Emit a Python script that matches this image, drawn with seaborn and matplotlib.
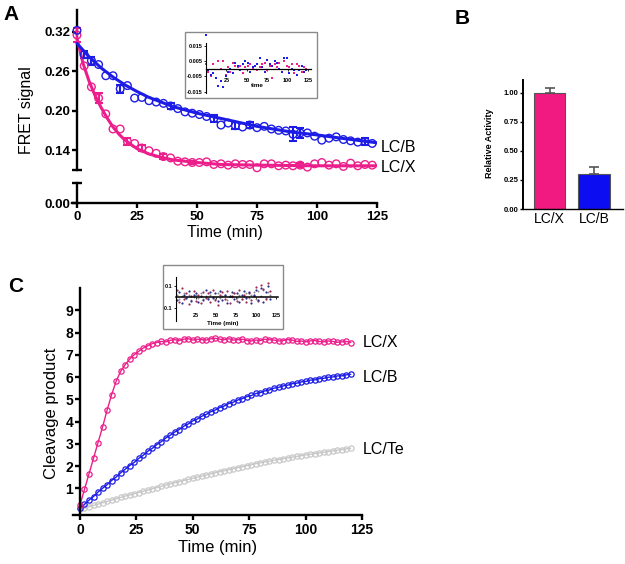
import numpy as np
import pandas as pd
import matplotlib
matplotlib.use("Agg")
import matplotlib.pyplot as plt
import seaborn as sns
from matplotlib.patches import Rectangle

# ---------------- data ----------------
# Panel A: FRET signal vs time (points every 3 min)
a_time = list(range(0, 124, 3))
a_lcx = [0.315, 0.268, 0.236, 0.219, 0.195, 0.172, 0.172, 0.153, 0.150, 0.143,
         0.139, 0.135, 0.130, 0.128, 0.123, 0.122, 0.121, 0.121, 0.122, 0.118,
         0.119, 0.117, 0.119, 0.118, 0.118, 0.113, 0.119, 0.119, 0.116, 0.117,
         0.116, 0.117, 0.114, 0.119, 0.121, 0.117, 0.119, 0.115, 0.120, 0.116,
         0.118, 0.117]
a_lcb = [0.322, 0.285, 0.276, 0.270, 0.253, 0.253, 0.233, 0.238, 0.219, 0.220,
         0.215, 0.213, 0.211, 0.207, 0.203, 0.198, 0.196, 0.194, 0.191, 0.188,
         0.178, 0.181, 0.177, 0.175, 0.178, 0.174, 0.176, 0.172, 0.170, 0.169,
         0.164, 0.166, 0.166, 0.161, 0.155, 0.158, 0.160, 0.156, 0.154, 0.152,
         0.153, 0.150]
a_lcx_err = [0.011, 0, 0, 0.008, 0, 0, 0, 0.005, 0, 0.004,
             0, 0, 0.004, 0, 0, 0, 0.003, 0, 0, 0,
             0, 0, 0, 0, 0, 0, 0, 0, 0, 0,
             0, 0.003, 0, 0, 0, 0, 0, 0, 0, 0,
             0, 0]
a_lcb_err = [0, 0.005, 0.006, 0, 0, 0, 0.006, 0, 0, 0,
             0, 0, 0, 0.005, 0, 0, 0, 0, 0, 0.005,
             0, 0, 0.005, 0, 0.004, 0, 0, 0, 0, 0,
             0.011, 0.008, 0, 0, 0, 0, 0, 0, 0, 0,
             0.005, 0]
# fitted curves
a_fit_t_lcx = [0, 2.5, 5, 7.5, 10, 12.5, 15, 17.5, 20, 25, 30, 35, 40, 50, 60, 75, 100, 125]
a_fit_lcx = [0.310, 0.272, 0.245, 0.223, 0.205, 0.189, 0.175, 0.164, 0.155, 0.142,
             0.134, 0.129, 0.125, 0.121, 0.118, 0.117, 0.116, 0.116]
a_fit_t_lcb = [0, 5, 10, 15, 20, 25, 30, 40, 50, 60, 75, 90, 100, 110, 125]
a_fit_lcb = [0.302, 0.282, 0.265, 0.251, 0.239, 0.229, 0.220, 0.206, 0.196, 0.188,
             0.176, 0.167, 0.163, 0.158, 0.151]
# Panel A inset residuals
a_res_lcb = [0.022, -0.001, -0.004, -0.003, -0.006, -0.011, -0.008, -0.012, -0.005, -0.002,
             0.000, -0.003, 0.004, 0.002, -0.001, 0.003, 0.005, 0.004, -0.002, 0.001,
             0.002, 0.003, 0.007, 0.001, -0.002, 0.006, 0.003, 0.002, 0.005, 0.004,
             0.000, -0.002, 0.007, 0.007, -0.003, 0.000, -0.001, -0.004, -0.001, 0.002,
             -0.002, -0.001]
a_res_lcx = [0.003, -0.002, -0.005, 0.003, -0.006, 0.005, 0.000, 0.005, -0.004, 0.001,
             -0.002, 0.004, 0.002, 0.001, 0.002, -0.003, 0.001, 0.002, 0.003, 0.000,
             0.002, -0.001, 0.001, 0.003, 0.004, -0.001, 0.002, -0.006, 0.003, 0.001,
             0.004, -0.002, 0.005, 0.002, 0.001, 0.003, -0.003, 0.003, 0.002, -0.002,
             0.001, 0.000]

# Panel B: relative activity
b_labels = ["LC/X", "LC/B"]
b_values = [1.00, 0.30]
b_errors = [0.04, 0.06]

# Panel C: cleavage product vs time (every 2 min)
c_time = list(range(0, 121, 2))
c_lcx = [0.25, 0.95, 1.65, 2.35, 3.05, 3.75, 4.50, 5.20, 5.80, 6.25,
         6.55, 6.80, 7.00, 7.15, 7.30, 7.40, 7.50, 7.55, 7.60, 7.58,
         7.65, 7.68, 7.64, 7.70, 7.72, 7.66, 7.70, 7.68, 7.66, 7.72,
         7.74, 7.70, 7.68, 7.72, 7.66, 7.68, 7.70, 7.64, 7.62, 7.66,
         7.64, 7.70, 7.68, 7.66, 7.62, 7.64, 7.68, 7.66, 7.60, 7.62,
         7.58, 7.62, 7.64, 7.60, 7.58, 7.62, 7.60, 7.56, 7.58, 7.60,
         7.55]
c_lcb = [0.10, 0.28, 0.47, 0.63, 0.83, 1.00, 1.16, 1.35, 1.50, 1.69,
         1.85, 2.02, 2.16, 2.34, 2.48, 2.66, 2.79, 2.96, 3.09, 3.26,
         3.38, 3.53, 3.64, 3.79, 3.89, 4.03, 4.11, 4.24, 4.32, 4.44,
         4.52, 4.63, 4.70, 4.81, 4.87, 4.97, 5.03, 5.12, 5.17, 5.26,
         5.30, 5.38, 5.42, 5.50, 5.53, 5.60, 5.63, 5.70, 5.72, 5.78,
         5.80, 5.86, 5.87, 5.93, 5.94, 5.99, 6.00, 6.05, 6.05, 6.10,
         6.12]
c_lcte = [0.05, 0.11, 0.17, 0.23, 0.29, 0.35, 0.41, 0.47, 0.53, 0.59,
          0.65, 0.70, 0.76, 0.81, 0.87, 0.92, 0.98, 1.03, 1.09, 1.14,
          1.20, 1.25, 1.30, 1.35, 1.40, 1.45, 1.50, 1.55, 1.60, 1.65,
          1.70, 1.75, 1.79, 1.84, 1.88, 1.93, 1.97, 2.02, 2.06, 2.11,
          2.15, 2.19, 2.22, 2.26, 2.29, 2.33, 2.36, 2.40, 2.43, 2.47,
          2.50, 2.53, 2.56, 2.59, 2.62, 2.65, 2.68, 2.71, 2.74, 2.77,
          2.80]
# Panel C inset residuals (every 3 min)
c_res_time = list(range(1, 120, 3))
c_res_1 = [0.06, -0.05, 0.08, -0.02, 0.03, -0.07, 0.01, 0.05, -0.04, 0.02,
           -0.06, 0.04, -0.01, 0.03, -0.05, 0.06, -0.03, -0.08, 0.02, 0.04,
           -0.02, 0.05, -0.06, 0.01, 0.03, -0.04, 0.06, -0.02, 0.02, -0.05,
           0.03, -0.03, 0.01, 0.09, -0.04, 0.11, 0.07, -0.02, 0.13, 0.05]
c_res_2 = [-0.03, 0.04, -0.06, 0.02, -0.01, 0.05, -0.04, 0.02, 0.03, -0.05,
           0.01, -0.03, 0.06, -0.02, 0.04, -0.01, 0.03, -0.04, 0.05, -0.03,
           0.02, -0.06, 0.01, 0.04, -0.02, 0.03, -0.05, 0.02, 0.05, -0.01,
           0.04, -0.06, 0.02, 0.06, -0.03, 0.08, -0.05, 0.04, 0.10, -0.02]
c_res_3 = [0.02, -0.02, 0.01, 0.03, -0.01, 0.02, -0.03, 0.00, 0.02, -0.01,
           0.03, -0.02, 0.01, -0.01, 0.02, 0.00, -0.02, 0.03, -0.01, 0.01,
           0.02, -0.03, 0.01, 0.00, 0.03, -0.01, 0.02, -0.02, 0.01, 0.03,
           -0.01, 0.02, 0.04, -0.02, 0.05, 0.01, 0.06, -0.01, 0.04, 0.02]

# ---------------- style ----------------
sns.set_theme(style="ticks")
plt.rcParams["font.family"] = ["Liberation Sans", "DejaVu Sans"]
plt.rcParams["axes.linewidth"] = 1.7
for k in ["text.color", "axes.labelcolor", "xtick.color", "ytick.color", "axes.edgecolor",
          "xtick.labelcolor", "ytick.labelcolor"]:
    plt.rcParams[k] = "black"

PINK = "#EC1E8C"
BLUE = "#1C1CE6"
PINK_BAR = "#F01A80"
BLUE_BAR = "#0D0DF2"
GREY = "#C8C8C8"

W, H = 625, 564
fig = plt.figure(figsize=(W / 100, H / 100), dpi=100)


def ax_px(l, t, r, b):
    return fig.add_axes([l / W, 1 - b / H, (r - l) / W, (b - t) / H])


def clean(ax):
    ax.set_facecolor("none")
    for s in ["top", "right"]:
        ax.spines[s].set_visible(False)


# ================= Panel A =================
axA = ax_px(72.2, 10, 377, 170)
axA0 = ax_px(72.2, 183, 377, 203)
for ax in (axA, axA0):
    clean(ax)
    ax.set_xlim(-2, 125)
    ax.spines["left"].set_position(("data", 0))
    ax.spines["left"].set_linewidth(1.7)
axA.set_ylim(0.1096, 0.353)
axA0.set_ylim(0, 0.0304)
axA.spines["bottom"].set_visible(False)
axA.set_xticks([])
axA.set_yticks([0.14, 0.20, 0.26, 0.32])
axA.set_yticklabels(["0.14", "0.20", "0.26", "0.32"])
axA.set_yticks([0.1096], minor=True)
axA0.set_yticks([0.0])
axA0.set_yticklabels(["0.00"])
axA0.set_yticks([0.0304], minor=True)
axA0.set_xticks([0, 25, 50, 75, 100, 125])
for ax in (axA, axA0):
    ax.tick_params(axis="y", which="major", direction="out", length=3.5, width=1.7,
                   pad=1, labelsize=9.5)
    ax.tick_params(axis="y", which="minor", direction="inout", length=7, width=1.7)
    for lab in ax.get_yticklabels():
        lab.set_fontweight("bold")
axA0.tick_params(axis="x", direction="out", length=3.5, width=1.7, pad=2, labelsize=9.5)
for lab in axA0.get_xticklabels():
    lab.set_fontweight("bold")
axA0.spines["bottom"].set_linewidth(1.7)
axA0.set_xlabel("Time (min)", fontsize=11.5, labelpad=2)
fig.text(27 / W, 1 - 110 / H, "FRET signal", rotation=90, fontsize=11.5,
         ha="center", va="center")

ta = np.array(a_time)
for vals, errs, ft, fv, col in [(a_lcx, a_lcx_err, a_fit_t_lcx, a_fit_lcx, PINK),
                                (a_lcb, a_lcb_err, a_fit_t_lcb, a_fit_lcb, BLUE)]:
    v = np.array(vals)
    e = np.array(errs)
    m = e > 0
    axA.errorbar(ta[m], v[m], yerr=e[m], fmt="none", ecolor=col, elinewidth=1.5,
                 capsize=3, capthick=1.5, zorder=3)
    sns.lineplot(x=ft, y=fv, color=col, lw=2.2, ax=axA, zorder=4)
    sns.scatterplot(x=ta, y=v, ax=axA, marker="o", s=30, facecolors="none",
                    edgecolor=col, linewidth=1.0, zorder=5, clip_on=False)
axA.text(126.5, 0.1445, "LC/B", fontsize=11.5, va="center", ha="left")
axA.text(126.5, 0.114, "LC/X", fontsize=11.5, va="center", ha="left")

# inset A
fig.patches.append(Rectangle((185 / W, 1 - 98 / H), (317 - 185) / W, (98 - 32) / H,
                             transform=fig.transFigure, fill=False, ec="#8a8a8a", lw=1))
axAi = ax_px(206, 32.7, 310.5, 92.5)
clean(axAi)
axAi.set_xlim(0, 128)
axAi.set_ylim(-0.0155, 0.0235)
axAi.spines["bottom"].set_position(("data", 0))
axAi.spines["bottom"].set_linewidth(0.9)
axAi.spines["left"].set_linewidth(0.8)
axAi.spines["left"].set_bounds(-0.0155, 0.017)
axAi.set_xticks([25, 50, 75, 100, 125])
axAi.set_yticks([0.015, 0.005, -0.005, -0.015])
axAi.set_yticklabels(["0.015", "0.005", "-0.005", "-0.015"])
axAi.tick_params(axis="both", length=1.5, width=0.6, labelsize=4, pad=1)
axAi.tick_params(axis="x", pad=5)
for lab in axAi.get_xticklabels() + axAi.get_yticklabels():
    lab.set_fontweight("bold")
sns.scatterplot(x=a_time, y=a_res_lcx, ax=axAi, color=PINK, s=3, linewidth=0,
                marker="s", clip_on=False)
sns.scatterplot(x=a_time, y=a_res_lcb, ax=axAi, color=BLUE, s=3, linewidth=0,
                marker="s", clip_on=False)
axAi.text(63, -0.0108, "time", fontsize=4.5, fontweight="bold", ha="center", va="center")

# ================= Panel B =================
axB = ax_px(523, 80, 623, 209)
clean(axB)
sns.barplot(x=b_labels, y=b_values, hue=b_labels, palette=[PINK_BAR, BLUE_BAR],
            saturation=1, width=0.7, edgecolor="#555555", linewidth=0.8, legend=False,
            ax=axB)
axB.errorbar([0, 1], b_values, yerr=[[0, 0], b_errors], fmt="none", ecolor="#555555",
             elinewidth=1.2, capsize=3.3, capthick=1.2, zorder=5)
axB.set_xlim(-0.596, 1.652)
axB.set_ylim(0, 1.112)
axB.set_yticks([0, 0.25, 0.5, 0.75, 1.0])
axB.set_yticklabels(["0.00", "0.25", "0.50", "0.75", "1.00"])
axB.spines["left"].set_linewidth(1.4)
axB.spines["bottom"].set_linewidth(1.0)
axB.tick_params(axis="y", direction="out", length=2.5, width=1.0, pad=1, labelsize=5.5)
axB.tick_params(axis="x", length=0, pad=2, labelsize=10)
for lab in axB.get_yticklabels():
    lab.set_fontweight("bold")
axB.set_xlabel("")
axB.set_ylabel("")
fig.text(490 / W, 1 - 143 / H, "Relative Activity", rotation=90, fontsize=6.5,
         fontweight="bold", ha="center", va="center")

# ================= Panel C =================
axC = ax_px(73.2, 288, 362, 515)
clean(axC)
axC.set_xlim(-3, 125)
axC.set_ylim(-0.2, 10)
axC.spines["left"].set_position(("data", 0))
for series, col in [(c_lcte, GREY), (c_lcb, BLUE), (c_lcx, PINK)]:
    sns.lineplot(x=c_time, y=series, color=col, lw=1.0, marker="o", markersize=3.8,
                 markerfacecolor="none", markeredgecolor=col, markeredgewidth=0.9,
                 ax=axC, clip_on=False)
axC.set_xticks([0, 25, 50, 75, 100, 125])
axC.set_yticks(range(1, 10))
axC.tick_params(axis="both", direction="out", length=3.5, width=1.7, pad=1.5, labelsize=10)
axC.tick_params(axis="x", pad=2.5)
for lab in axC.get_xticklabels() + axC.get_yticklabels():
    lab.set_fontweight("bold")
axC.set_xlabel("Time (min)", fontsize=12, labelpad=2)
fig.text(52 / W, 1 - 413 / H, "Cleavage product", rotation=90, fontsize=12,
         ha="center", va="center")
axC.text(125.3, 7.57, "LC/X", fontsize=11.5, va="center", ha="left")
axC.text(125.3, 6.0, "LC/B", fontsize=11.5, va="center", ha="left")
axC.text(125.3, 2.76, "LC/Te", fontsize=11.5, va="center", ha="left")

# inset C
fig.patches.append(Rectangle((163 / W, 1 - 329 / H), (283 - 163) / W, (329 - 265) / H,
                             transform=fig.transFigure, fill=False, ec="#8a8a8a", lw=1))
axCi = ax_px(176, 277.2, 277.6, 320.6)
clean(axCi)
axCi.set_xlim(0, 127)
axCi.set_ylim(-0.22, 0.18)
axCi.spines["bottom"].set_position(("data", 0))
axCi.spines["bottom"].set_linewidth(1.1)
axCi.spines["left"].set_linewidth(0.8)
axCi.set_xticks([25, 50, 75, 100, 125])
axCi.set_yticks([0.1, -0.1])
axCi.set_yticklabels(["0.1", "-0.1"])
axCi.tick_params(axis="both", length=1.5, width=0.6, labelsize=4, pad=1)
axCi.tick_params(axis="x", pad=10)
for lab in axCi.get_xticklabels() + axCi.get_yticklabels():
    lab.set_fontweight("bold")
sns.scatterplot(x=c_res_time, y=c_res_3, ax=axCi, color="#8a8a8a", s=2, linewidth=0)
sns.scatterplot(x=c_res_time, y=c_res_1, ax=axCi, color="#9A2C4C", s=2.5, linewidth=0)
sns.scatterplot(x=c_res_time, y=c_res_2, ax=axCi, color="#2C2C8C", s=2.5, linewidth=0)
axCi.text(59, -0.243, "Time (min)", fontsize=4.5, fontweight="bold", ha="center",
          va="center", clip_on=False)

# panel letters
fig.text(3 / W, 1 - 14 / H, "A", fontsize=15, fontweight="bold", va="center")
fig.text(455 / W, 1 - 18 / H, "B", fontsize=15, fontweight="bold", va="center")
fig.text(8 / W, 1 - 287 / H, "C", fontsize=15, fontweight="bold", va="center")

fig.savefig("out.png", dpi=100)
